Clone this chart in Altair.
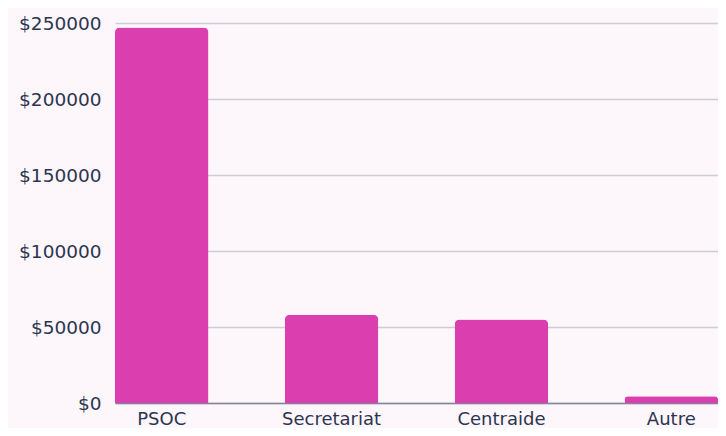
import altair as alt
import pandas as pd

categories = ["PSOC", "Secretariat", "Centraide", "Autre"]
amounts = [247000, 58000, 55000, 4500]
y_ticks = [0, 50000, 100000, 150000, 200000, 250000]

df = pd.DataFrame({"cat": categories, "amount": amounts})

FONT = "DejaVu Sans"
TEXT = "#2B3550"

chart = alt.Chart(df).mark_bar(
    color="#DA3EAF",
    cornerRadiusTopLeft=5,
    cornerRadiusTopRight=5,
).encode(
    x=alt.X(
        "cat:N",
        sort=categories,
        title=None,
        scale=alt.Scale(paddingInner=0.45, paddingOuter=0),
        axis=alt.Axis(
            labelAngle=0,
            ticks=False,
            labelPadding=7,
            labelFontSize=18,
            labelColor=TEXT,
            labelFont=FONT,
            domainColor="#80859A",
            domainWidth=1.5,
            grid=False,
        ),
    ),
    y=alt.Y(
        "amount:Q",
        title=None,
        scale=alt.Scale(domain=[0, 250000], nice=False),
        axis=alt.Axis(
            values=y_ticks,
            labelExpr="'$' + datum.value",
            ticks=False,
            domain=False,
            labelPadding=14,
            labelFontSize=18.5,
            labelColor=TEXT,
            labelFont=FONT,
            gridColor="#CFCCD9",
            gridWidth=1.5,
        ),
    ),
).properties(
    width=603,
    height=380,
    background="#FDF6FB",
    padding={"left": 107, "top": 15, "right": 0, "bottom": 25},
    autosize=alt.AutoSizeParams(type="none"),
).configure_view(stroke=None)

chart.save("out.html", embed_options={"renderer": "svg", "actions": False})
